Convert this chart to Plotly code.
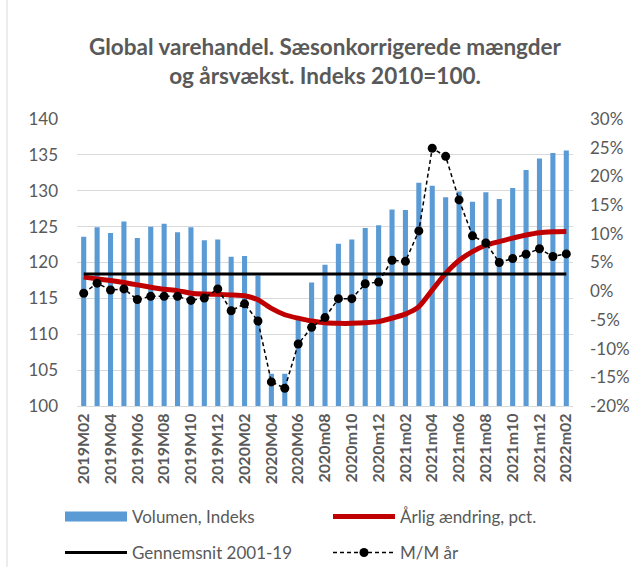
import plotly.graph_objects as go

months = (["2019M%02d" % m for m in range(2, 13)] +
          ["2020M%02d" % m for m in range(1, 8)] +
          ["2020m%02d" % m for m in range(8, 13)] +
          ["2021m%02d" % m for m in range(1, 13)] +
          ["2022m01", "2022m02"])

volumen = [123.6, 124.9, 124.1, 125.7, 123.4, 125.0, 125.4, 124.2, 124.9, 123.1, 123.2,
           120.8, 120.9, 118.2, 104.5, 104.5, 112.0, 117.2, 119.7, 122.6, 123.2, 124.8, 125.2,
           127.4, 127.3, 131.1, 130.7, 129.1, 129.9, 128.45, 129.8, 128.85, 130.4, 132.9, 134.5,
           135.25, 135.6]

aarlig = [2.45, 2.15, 1.85, 1.5, 1.1, 0.7, 0.35, 0.1, -0.35, -0.5, -0.55,
          -0.65, -0.8, -1.5, -3.0, -4.1, -4.7, -5.2, -5.5, -5.6, -5.6, -5.5, -5.3,
          -4.7, -4.0, -2.7, 0.2, 3.1, 5.35, 6.9, 8.0, 8.65, 9.25, 9.8, 10.2,
          10.35, 10.4]

mm_aar = [-0.35, 1.4, 0.2, 0.4, -1.45, -0.9, -0.9, -0.9, -1.6, -1.2, 0.4,
          -3.4, -2.2, -5.2, -15.8, -16.9, -9.2, -6.3, -4.6, -1.3, -1.3, 1.3, 1.6,
          5.4, 5.2, 10.5, 24.9, 23.5, 15.9, 9.65, 8.4, 5.0, 5.7, 6.45, 7.4,
          6.05, 6.5]

gennemsnit = 3.0

left_ticks = [100, 105, 110, 115, 120, 125, 130, 135, 140]
right_ticks = [-20, -15, -10, -5, 0, 5, 10, 15, 20, 25, 30]
right_labels = ["%d%%" % v for v in right_ticks]

FONT = "Lato"
GREY = "#595959"
BLUE = "#5B9BD5"
RED = "#C00000"

fig = go.Figure()
fig.add_trace(go.Bar(x=months, y=volumen, name="Volumen, Indeks",
                     marker=dict(color=BLUE, line=dict(width=0)), showlegend=False))
fig.add_trace(go.Scatter(x=months, y=aarlig, name="Årlig ændring, pct.", yaxis="y2",
                         mode="lines", line=dict(color=RED, width=5, shape="spline", smoothing=0.6),
                         legend="legend2"))
fig.add_trace(go.Scatter(x=months, y=[gennemsnit] * len(months), name="Gennemsnit 2001-19",
                         yaxis="y2", mode="lines", line=dict(color="black", width=3),
                         legend="legend3"))
fig.add_trace(go.Scatter(x=months, y=mm_aar, name="M/M år", yaxis="y2",
                         mode="lines+markers", line=dict(color="black", width=1.5, dash="4px,3px"),
                         marker=dict(color="black", size=9),
                         legend="legend4"))
# legend key for the bars (wide blue block like the original)
fig.add_trace(go.Scatter(x=[months[0]], y=[None], name="Volumen, Indeks", mode="lines",
                         line=dict(color=BLUE, width=10), legend="legend", hoverinfo="skip"))

LEG = dict(orientation="h", xref="container", yref="container", xanchor="left", yanchor="middle",
           itemwidth=62, font=dict(size=17, color=GREY), bgcolor="rgba(0,0,0,0)")
x1 = 60 / 638
x2 = 328 / 638
yr1 = 1 - 517 / 567
yr2 = 1 - 553 / 567

fig.update_layout(
    width=638, height=567,
    margin=dict(l=77, r=65, t=119, b=161, autoexpand=False),
    paper_bgcolor="white", plot_bgcolor="white",
    font=dict(family=FONT, color=GREY, size=17),
    bargap=0.62,
    title=dict(text="<b>Global varehandel. Sæsonkorrigerede mængder<br>og årsvækst. Indeks 2010=100.</b>",
               x=0.5, xref="paper", xanchor="center", y=1 - 55 / 567, yref="container", yanchor="top",
               font=dict(family=FONT, size=22.5, color=GREY)),
    xaxis=dict(type="category", tickangle=-90, range=[-0.5, 36.5], automargin=False,
               tickmode="array", tickvals=months[::2], ticktext=months[::2],
               tickfont=dict(family=FONT, size=16, color=GREY, weight="bold"),
               showgrid=False, showline=True, linecolor="#D9D9D9", linewidth=1, ticks=""),
    yaxis=dict(range=[100, 140], tickvals=left_ticks, showgrid=True, gridcolor="#D9D9D9",
               gridwidth=1, zeroline=False, showline=False, ticks="", ticklabelstandoff=18,
               automargin=False, tickfont=dict(size=17, color=GREY)),
    yaxis2=dict(range=[-20, 30], overlaying="y", side="right", tickvals=right_ticks,
                ticktext=right_labels, showgrid=False, zeroline=False, showline=False, ticks="",
                ticklabelstandoff=16, automargin=False, tickfont=dict(size=17, color=GREY)),
    legend=dict(LEG, x=x1, y=yr1),
    legend2=dict(LEG, x=x2, y=yr1),
    legend3=dict(LEG, x=x1, y=yr2),
    legend4=dict(LEG, x=x2, y=yr2),
    showlegend=True,
)

fig.add_shape(type="line", xref="paper", yref="paper",
              x0=-(77 - 7) / 496, x1=-(77 - 7) / 496, y0=-2, y1=2,
              line=dict(color="#D9D9D9", width=1))

fig.write_html("out.html", config={"displayModeBar": False},
               post_script="document.body.style.margin='0';")
